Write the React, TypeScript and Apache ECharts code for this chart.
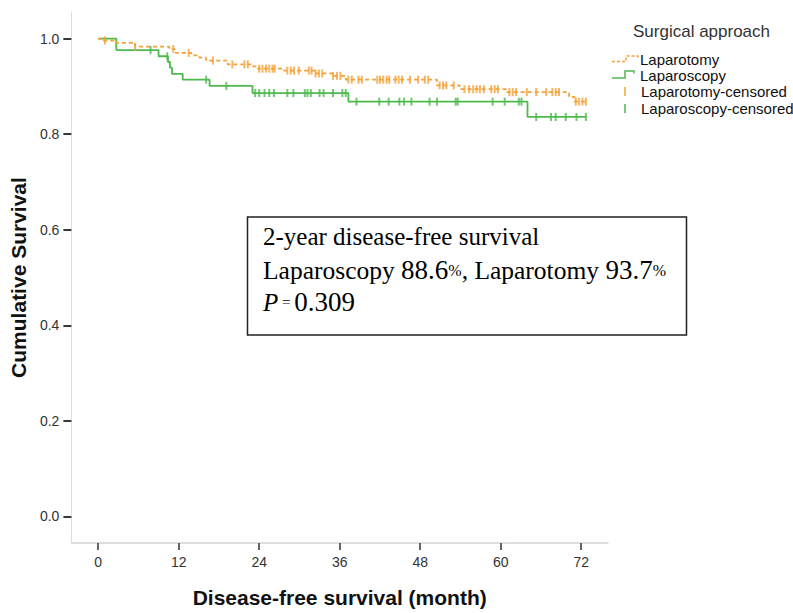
import React, { useEffect, useRef } from "react";
import * as echarts from "echarts";

// Kaplan-Meier step data (event times in months, survival after each event)
const laparotomyTimes = [0, 0.8, 2.7, 5.5, 10.6, 11.4, 13.9, 15.1, 16.1, 19.3, 23.0, 23.8, 27.7, 32.2, 34.9, 36.9, 50.5, 53.9, 60.8, 70.2, 71.0];
const laparotomySurv = [1.0, 0.996, 0.991, 0.983, 0.978, 0.970, 0.965, 0.960, 0.954, 0.946, 0.942, 0.937, 0.933, 0.927, 0.922, 0.914, 0.902, 0.894, 0.888, 0.878, 0.868];
const laparotomyEnd = 72.7;
const laparotomyCensored = [1.0, 5.5, 11.2, 13.5, 17.1, 20.0, 21.8, 22.3, 24.0, 24.5, 25.0, 25.5, 26.0, 26.3, 28.2, 28.7, 29.2, 29.9, 31.4, 31.8, 32.4, 32.9, 33.4, 35.0, 35.6, 36.1, 37.3, 37.8, 38.8, 39.3, 41.6, 42.0, 42.5, 43.0, 43.4, 44.3, 44.8, 45.3, 46.5, 47.7, 48.7, 49.2, 50.9, 51.4, 51.9, 53.0, 54.6, 55.3, 55.9, 56.4, 56.9, 57.5, 58.6, 59.1, 59.6, 61.3, 61.8, 62.3, 63.9, 65.3, 66.8, 67.7, 68.2, 68.7, 71.2, 71.7, 72.2, 72.7];

const laparoscopyTimes = [0, 2.7, 9.0, 10.4, 10.7, 11.0, 12.6, 16.6, 23.0, 37.3, 64.0];
const laparoscopySurv = [1.0, 0.976, 0.963, 0.951, 0.939, 0.926, 0.914, 0.901, 0.886, 0.868, 0.836];
const laparoscopyEnd = 72.7;
const laparoscopyCensored = [7.8, 10.3, 16.1, 19.1, 23.4, 24.0, 24.8, 25.5, 26.2, 28.2, 29.1, 30.8, 31.2, 31.7, 33.0, 33.6, 35.0, 36.4, 36.9, 38.5, 41.9, 43.3, 44.9, 45.6, 46.7, 49.4, 50.5, 53.3, 53.6, 58.8, 60.6, 62.7, 63.1, 65.3, 67.5, 68.2, 69.7, 71.3, 72.7];

const xTicks = [0, 12, 24, 36, 48, 60, 72];
const yTicks = [0, 0.2, 0.4, 0.6, 0.8, 1.0];

const ORANGE = "#F5A13A";
const GREEN = "#4DBA4D";
const SANS = "'Liberation Sans', Arial, sans-serif";
const SERIF = "'Liberation Serif', 'Times New Roman', serif";

function survAt(times: number[], surv: number[], t: number) {
  let s = surv[0];
  for (let i = 0; i < times.length; i++) {
    if (times[i] <= t) s = surv[i];
  }
  return s;
}

function stepData(times: number[], surv: number[], end: number) {
  const d = times.map((t, i) => [t, surv[i]]);
  d.push([end, surv[surv.length - 1]]);
  return d;
}

export default function App() {
  const ref = useRef<HTMLDivElement>(null);
  useEffect(() => {
    if (!ref.current) return;
    const chart = echarts.init(ref.current, null, { renderer: "svg" });
    const option: any = {
      animation: false,
      backgroundColor: "#ffffff",
      grid: { left: 70, right: 185, top: 12, bottom: 61 },
      xAxis: {
        type: "value",
        min: -4,
        max: 76,
        name: "Disease-free survival (month)",
        nameLocation: "middle",
        nameGap: 44,
        nameTextStyle: { fontFamily: SANS, fontSize: 21, fontWeight: "bold", color: "#111" },
        axisLine: { show: true, onZero: false, lineStyle: { color: "#d4d4d4", width: 1.5 } },
        axisTick: { show: true, customValues: xTicks, length: 7, lineStyle: { color: "#333", width: 1.5 } },
        axisLabel: { customValues: xTicks, margin: 12, fontSize: 14, fontFamily: SANS, color: "#333" },
        splitLine: { show: false },
      },
      yAxis: {
        type: "value",
        min: -0.0556,
        max: 1.0556,
        name: "Cumulative Survival",
        nameLocation: "middle",
        nameGap: 41,
        nameTextStyle: { fontFamily: SANS, fontSize: 21, fontWeight: "bold", color: "#111" },
        axisLine: { show: true, onZero: false, lineStyle: { color: "#dedede", width: 1 } },
        axisTick: { show: true, customValues: yTicks, length: 8, lineStyle: { color: "#222", width: 1.8 } },
        axisLabel: {
          customValues: yTicks,
          margin: 12,
          fontSize: 14,
          fontFamily: SANS,
          color: "#333",
          formatter: (v: number) => v.toFixed(1),
        },
        splitLine: { show: false },
      },
      series: [
        {
          name: "Laparotomy",
          type: "line",
          step: "end",
          symbol: "none",
          data: stepData(laparotomyTimes, laparotomySurv, laparotomyEnd),
          lineStyle: { color: ORANGE, width: 1.8, type: [4, 3] },
          z: 3,
        },
        {
          name: "Laparoscopy",
          type: "line",
          step: "end",
          symbol: "none",
          data: stepData(laparoscopyTimes, laparoscopySurv, laparoscopyEnd),
          lineStyle: { color: GREEN, width: 1.8 },
          z: 2,
        },
        {
          name: "Laparotomy-censored",
          type: "scatter",
          symbol: "rect",
          symbolSize: [2, 8],
          data: laparotomyCensored.map((t) => [t, survAt(laparotomyTimes, laparotomySurv, t)]),
          itemStyle: { color: ORANGE },
          z: 4,
        },
        {
          name: "Laparoscopy-censored",
          type: "scatter",
          symbol: "rect",
          symbolSize: [2, 8],
          data: laparoscopyCensored.map((t) => [t, survAt(laparoscopyTimes, laparoscopySurv, t)]),
          itemStyle: { color: GREEN },
          z: 4,
        },
      ],
      graphic: [
        // legend
        { type: "text", x: 633, y: 31.5, style: { text: "Surgical approach", font: `17px ${SANS}`, fill: "#333", verticalAlign: "middle" } },
        { type: "polyline", shape: { points: [[612, 61.5], [626, 61.5], [626, 56], [638, 56], [638, 58.5]] }, style: { stroke: ORANGE, lineWidth: 1.5, lineDash: [3, 2], fill: null } },
        { type: "text", x: 640, y: 59, style: { text: "Laparotomy", font: `15px ${SANS}`, fill: "#111", verticalAlign: "middle" } },
        { type: "polyline", shape: { points: [[612, 78], [625, 78], [625, 71], [634, 71], [634, 73.5]] }, style: { stroke: GREEN, lineWidth: 1.5, fill: null } },
        { type: "text", x: 640, y: 75, style: { text: "Laparoscopy", font: `15px ${SANS}`, fill: "#111", verticalAlign: "middle" } },
        { type: "line", shape: { x1: 625, y1: 87, x2: 625, y2: 96 }, style: { stroke: ORANGE, lineWidth: 1.5 } },
        { type: "text", x: 641, y: 91.7, style: { text: "Laparotomy-censored", font: `15px ${SANS}`, fill: "#111", verticalAlign: "middle" } },
        { type: "line", shape: { x1: 625, y1: 104, x2: 625, y2: 113 }, style: { stroke: GREEN, lineWidth: 1.5 } },
        { type: "text", x: 641, y: 108.3, style: { text: "Laparoscopy-censored", font: `15px ${SANS}`, fill: "#111", verticalAlign: "middle" } },
        // annotation box
        { type: "rect", shape: { x: 247.5, y: 217, width: 439, height: 118 }, style: { fill: "#fff", stroke: "#222", lineWidth: 1.5 }, z: 10 },
        { type: "text", x: 263, y: 236, z: 11, style: { text: "2-year disease-free survival", font: `25px ${SERIF}`, fill: "#000", verticalAlign: "middle" } },
        {
          type: "text", x: 263, y: 270, z: 11,
          style: {
            text: "{a|Laparoscopy }{n|88.6}{b|%}{a|, Laparotomy }{n|93.7}{b|%}",
            verticalAlign: "middle",
            rich: {
              a: { fontFamily: SERIF, fontSize: 25.5, fill: "#000", color: "#000" },
              n: { fontFamily: SERIF, fontSize: 27, fill: "#000", color: "#000" },
              b: { fontFamily: SERIF, fontSize: 16, fill: "#000", color: "#000" },
            },
          },
        },
        {
          type: "text", x: 263, y: 302, z: 11,
          style: {
            text: "{i|P}{s| = }{n|0.309}",
            verticalAlign: "middle",
            rich: {
              i: { fontFamily: SERIF, fontSize: 25, fontStyle: "italic", fill: "#000", color: "#000" },
              s: { fontFamily: SERIF, fontSize: 15, fill: "#000", color: "#000" },
              n: { fontFamily: SERIF, fontSize: 27, fill: "#000", color: "#000" },
            },
          },
        },
      ],
    };
    chart.setOption(option);
    return () => chart.dispose();
  }, []);
  return (
    <div
      ref={ref}
      style={{ position: "fixed", left: 0, top: 0, width: 793, height: 613, background: "#fff" }}
    />
  );
}
